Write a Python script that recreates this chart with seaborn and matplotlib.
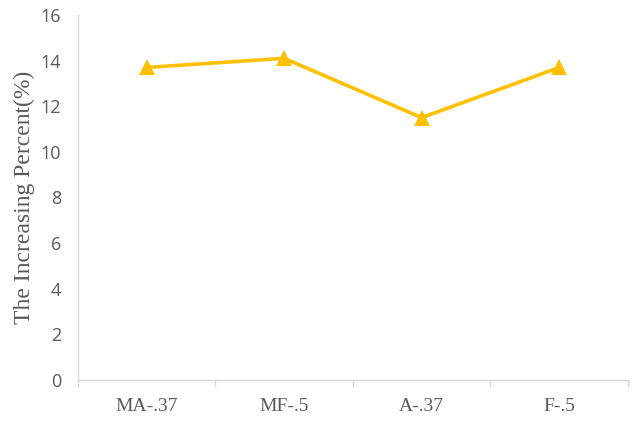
import matplotlib
matplotlib.use("Agg")
import matplotlib.pyplot as plt
import seaborn as sns
import numpy as np
import pandas as pd
from matplotlib.ticker import FixedLocator

categories = ["MA-.37", "MF-.5", "A-.37", "F-.5"]
values = [13.7, 14.1, 11.5, 13.7]
y_ticks = [0, 2, 4, 6, 8, 10, 12, 14, 16]

sns.set_theme(style="white")
plt.rcParams['font.family'] = ['DejaVu Sans']

df = pd.DataFrame({"pos": np.arange(len(categories)), "val": values})

fig = plt.figure(figsize=(6.33, 4.21), dpi=100)
ax = fig.add_axes([0.123, 0.0974, 0.869, 0.867])

sns.lineplot(data=df, x="pos", y="val", ax=ax, color="#FFC000", linewidth=2.6,
             marker="^", markersize=12, markeredgewidth=0, markerfacecolor="#FFC000")

ax.set_xlim(-0.5, len(categories) - 0.5)
ax.set_ylim(0, 16)
ax.set_yticks(y_ticks)
ax.set_yticklabels([str(t) for t in y_ticks], fontsize=13, color="#595959", family="Open Sans")
ax.set_xticks(np.arange(len(categories)))
ax.set_xticklabels(categories, fontsize=14, color="#595959", family="Liberation Serif")
ax.xaxis.set_minor_locator(FixedLocator(np.arange(-0.5, len(categories), 1.0)))
ax.tick_params(axis="x", which="major", length=0, pad=13)
ax.tick_params(axis="x", which="minor", length=5, color="#d9d9d9", width=1, bottom=True)
ax.tick_params(axis="y", length=0, pad=12)

ax.set_xlabel("")
ax.set_ylabel("The Increasing Percent(%)", fontsize=17, color="#595959",
              family="Liberation Serif", labelpad=4)

for s in ["top", "right"]:
    ax.spines[s].set_visible(False)
ax.spines["left"].set_color("#d9d9d9")
ax.spines["bottom"].set_color("#d9d9d9")
ax.spines["left"].set_linewidth(1)
ax.spines["bottom"].set_linewidth(1)

fig.savefig("out.png", dpi=100)
